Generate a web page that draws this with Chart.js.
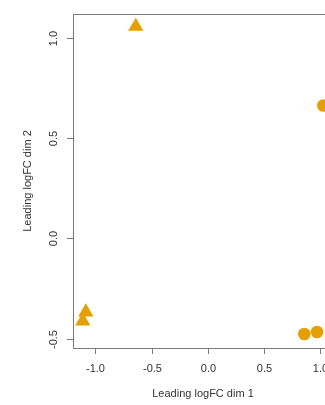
<!DOCTYPE html>
<html>
<head>
<meta charset="utf-8">
<script src="https://cdn.jsdelivr.net/npm/chart.js@4"></script>
<style>
  html, body { margin: 0; padding: 0; background: #fff; overflow: hidden; }
  #wrap { width: 325px; height: 405px; overflow: hidden; position: relative; }
  canvas { display: block; }
</style>
</head>
<body>
<div id="wrap"><canvas id="mds" width="360" height="405"></canvas></div>
<script>
// MDS coordinates, leading logFC dimensions 1 and 2
const circleDim1 = [1.027, 0.858, 0.971];
const circleDim2 = [0.662, -0.476, -0.466];
const triangleDim1 = [-0.640, -1.084, -1.111];
const triangleDim2 = [1.056, -0.367, -0.412];

const xTicks = [-1.0, -0.5, 0.0, 0.5, 1.0];
const yTicks = [-0.5, 0.0, 0.5, 1.0];
const xTitle = 'Leading logFC dim 1';
const yTitle = 'Leading logFC dim 2';

const pointColor = '#E69F00';
const axisColor = '#7a7a7a';
const textColor = '#333333';
const font = '11px "Liberation Sans", Arial, sans-serif';

function toPoints(xs, ys) {
  return xs.map((x, i) => ({ x: x, y: ys[i] }));
}

// base-graphics style frame, outward ticks and rotated y labels
const framePlugin = {
  id: 'frame',
  afterDraw(chart) {
    const ctx = chart.ctx;
    const a = chart.chartArea;
    const sx = chart.scales.x, sy = chart.scales.y;
    const tickLen = 6;
    ctx.save();
    ctx.strokeStyle = axisColor;
    ctx.lineWidth = 1;
    ctx.strokeRect(Math.round(a.left) + 0.5, Math.round(a.top) + 0.5,
                   Math.round(a.right - a.left), Math.round(a.bottom - a.top));

    ctx.fillStyle = textColor;
    ctx.font = font;

    // x axis
    ctx.textAlign = 'center';
    ctx.textBaseline = 'middle';
    xTicks.forEach(v => {
      const px = Math.round(sx.getPixelForValue(v)) + 0.5;
      ctx.beginPath();
      ctx.moveTo(px, a.bottom);
      ctx.lineTo(px, a.bottom + tickLen);
      ctx.stroke();
      ctx.fillText(v.toFixed(1), px, 368.5);
    });
    ctx.fillText(xTitle, (a.left + a.right) / 2, 393.5);

    // y axis
    yTicks.forEach(v => {
      const py = Math.round(sy.getPixelForValue(v)) + 0.5;
      ctx.beginPath();
      ctx.moveTo(a.left, py);
      ctx.lineTo(a.left - tickLen, py);
      ctx.stroke();
      ctx.save();
      ctx.translate(53.5, py);
      ctx.rotate(-Math.PI / 2);
      ctx.fillText(v.toFixed(1), 0, 0);
      ctx.restore();
    });
    ctx.save();
    ctx.translate(27.5, (a.top + a.bottom) / 2);
    ctx.rotate(-Math.PI / 2);
    ctx.fillText(yTitle, 0, 0);
    ctx.restore();
    ctx.restore();
  }
};

new Chart(document.getElementById('mds'), {
  type: 'scatter',
  data: {
    datasets: [
      {
        label: 'circle',
        data: toPoints(circleDim1, circleDim2),
        pointStyle: 'circle',
        pointRadius: 6.3,
        pointHoverRadius: 6.3,
        backgroundColor: pointColor,
        borderColor: pointColor,
        borderWidth: 0
      },
      {
        label: 'triangle',
        data: toPoints(triangleDim1, triangleDim2),
        pointStyle: 'triangle',
        pointRadius: 8.8,
        pointHoverRadius: 8.8,
        backgroundColor: pointColor,
        borderColor: pointColor,
        borderWidth: 0
      }
    ]
  },
  options: {
    responsive: false,
    animation: false,
    devicePixelRatio: 1,
    layout: { padding: { left: 73, right: 27, top: 14, bottom: 57 } },
    plugins: { legend: { display: false }, tooltip: { enabled: false } },
    events: [],
    scales: {
      x: { type: 'linear', min: -1.198, max: 1.113, display: false },
      y: { type: 'linear', min: -0.546, max: 1.118, display: false }
    }
  },
  plugins: [framePlugin]
});
</script>
</body>
</html>
